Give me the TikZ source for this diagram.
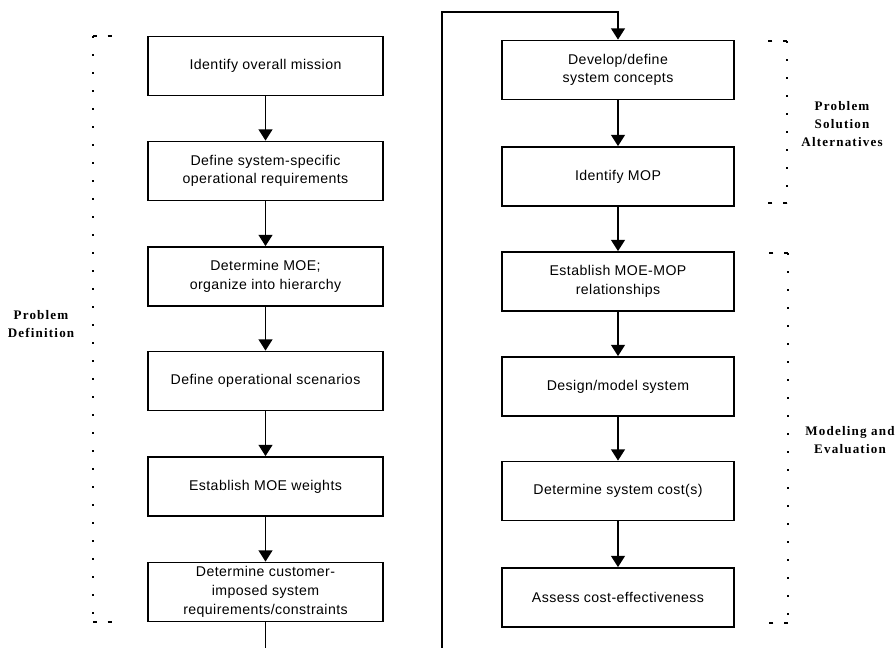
\documentclass[tikz,border=0pt]{standalone}
\usepackage{fontspec}
\setmainfont{Liberation Serif}
\setsansfont{Liberation Sans}[LetterSpace=3]
\newfontfamily\phasefamily{Liberation Serif}[LetterSpace=9]
\usetikzlibrary{arrows.meta}
\newcommand{\boxfont}{\sffamily\fontsize{10.6}{14}\selectfont}
\newcommand{\phasefont}{\phasefamily\bfseries\fontsize{9.8}{13.4}\selectfont}
\tikzset{
  stepbox/.style={draw,line width=1.1pt,minimum width=176pt,minimum height=44.5pt,
    align=center,inner sep=0,font=\boxfont},
  flow/.style={line width=1.1pt,-{Triangle[length=8.5pt,width=10.5pt]}},
  brace/.style={line width=1.5pt,dash pattern=on 1.6pt off 11.9pt},
  arm/.style={line width=1.1pt,dash pattern=on 3pt off 8pt},
  phase/.style={font=\phasefont,align=center,inner sep=0},
}
\begin{document}
\begin{tikzpicture}[x=0.75pt,y=-0.75pt]
\useasboundingbox (0,0) rectangle (896,647);
\clip (0,0) rectangle (896,647);
% left column: problem definition
\node[stepbox] (mission) at (265.5,66) {Identify overall mission};
\node[stepbox] (opreq) at (265.5,171) {Define system-specific\\operational requirements};
\node[stepbox] (moe) at (265.5,276.5) {Determine MOE;\\organize into hierarchy};
\node[stepbox] (scen) at (265.5,381) {Define operational scenarios};
\node[stepbox] (weights) at (265.5,486.5) {Establish MOE weights};
\node[stepbox] (constr) at (265.5,592) {Determine customer-\\imposed system\\requirements/constraints};
% right column: solution, modeling
\node[stepbox,minimum width=174pt] (concept) at (618,70) {Develop/define\\system concepts};
\node[stepbox,minimum width=174pt] (mop) at (618,176.5) {Identify MOP};
\node[stepbox,minimum width=174pt] (rel) at (618,281.5) {Establish MOE-MOP\\relationships};
\node[stepbox,minimum width=174pt] (design) at (618,386.5) {Design/model system};
\node[stepbox,minimum width=174pt] (cost) at (618,491) {Determine system cost(s)};
\node[stepbox,minimum width=174pt] (assess) at (618,597.5) {Assess cost-effectiveness};
% arrows
\draw[flow] (mission) -- (opreq);
\draw[flow] (opreq) -- (moe);
\draw[flow] (moe) -- (scen);
\draw[flow] (scen) -- (weights);
\draw[flow] (weights) -- (constr);
\draw[flow] (concept) -- (mop);
\draw[flow] (mop) -- (rel);
\draw[flow] (rel) -- (design);
\draw[flow] (design) -- (cost);
\draw[flow] (cost) -- (assess);
% link between columns, runs below the page
\coordinate (dropA) at (265.5,690);
\coordinate (dropB) at (442,690);
\coordinate (topB) at (442,12);
\coordinate (topC) at (618,12);
\draw[flow] (constr.south) -- (dropA) -- (dropB) -- (topB) -- (topC) -- (concept.north);
% brackets
\draw[brace] (93,36) -- (93,622);
\draw[arm] (93,36) -- (116,36);
\draw[arm] (93,622) -- (116,622);
\node[phase] (pdef) at (41,324) {Problem\\Definition};
\draw[brace] (787,41) -- (787,203);
\draw[arm] (787,41) -- (760,41);
\draw[arm] (787,203) -- (760,203);
\node[phase] (psol) at (842,124) {Problem\\Solution\\Alternatives};
\draw[brace] (788,253) -- (788,623);
\draw[arm] (788,253) -- (760,253);
\draw[arm] (788,623) -- (760,623);
\node[phase] (meval) at (850,440) {Modeling and\\Evaluation};
\end{tikzpicture}
\end{document}
